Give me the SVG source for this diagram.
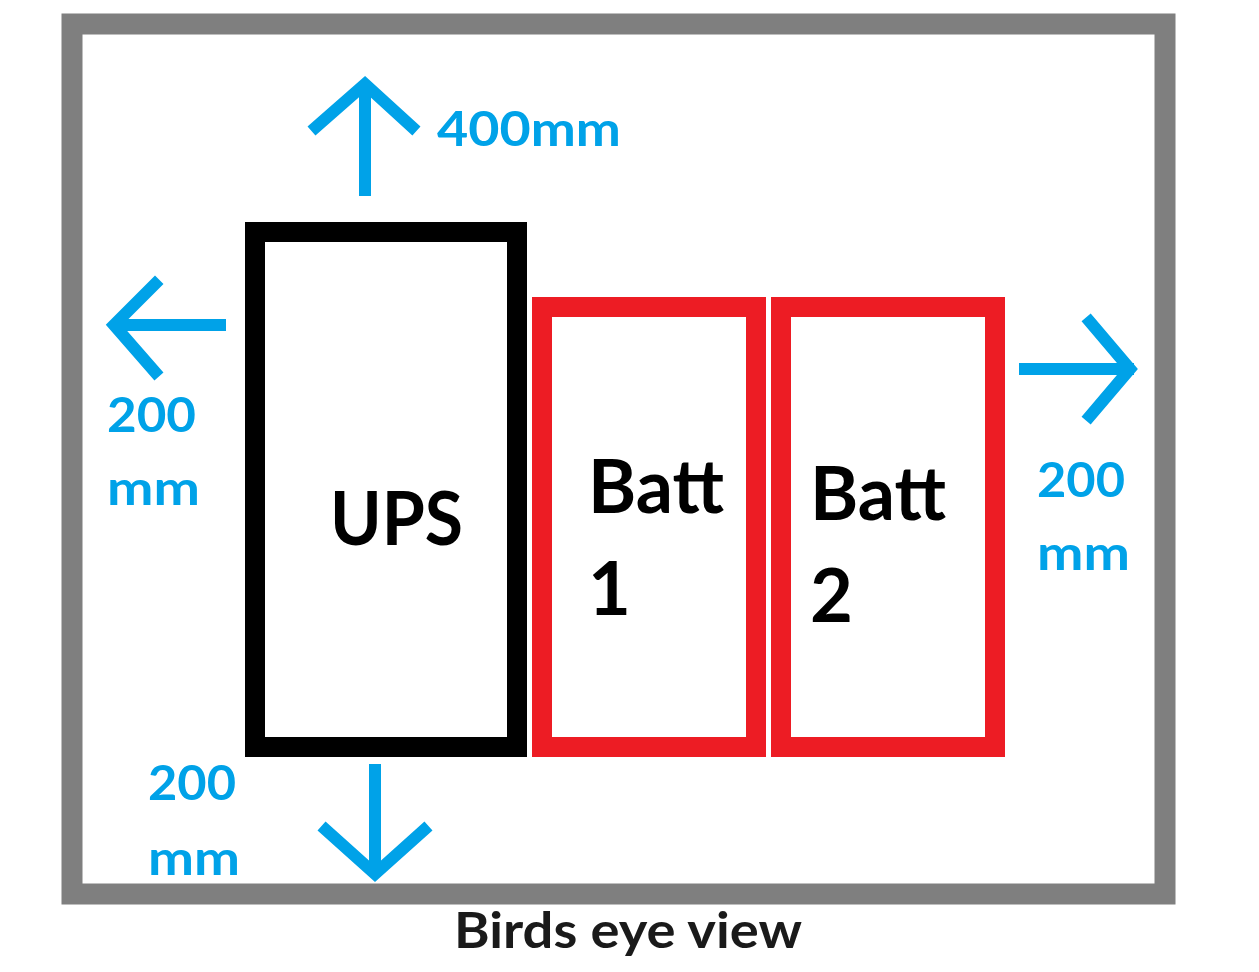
<svg xmlns="http://www.w3.org/2000/svg" width="1259" height="972" viewBox="0 0 1259 972">
<style>
.frame{fill:none;stroke:#7f7f7f;stroke-width:21}
.ups{fill:none;stroke:#000;stroke-width:20}
.batt{fill:none;stroke:#ed1c24;stroke-width:20}
.arr{fill:none;stroke:#00a2e8;stroke-width:12;stroke-linecap:square;stroke-linejoin:miter}
.dim{font-family:Lato,"Open Sans","Liberation Sans",sans-serif;font-weight:bold;font-size:48px;fill:#00a2e8}
.lbl{font-family:Lato,"Open Sans","Liberation Sans",sans-serif;font-weight:bold;font-size:74px;fill:#000}
.cap{font-family:Lato,"Open Sans","Liberation Sans",sans-serif;font-weight:bold;font-size:50px;fill:#1a1a1a}
</style>
<rect width="1259" height="972" fill="#fff"/>
<rect class="frame" x="72" y="24" width="1093" height="870"/>
<g id="ups">
<rect class="ups" x="255" y="232" width="262" height="515"/>
<text class="lbl" x="330" y="545" textLength="133" lengthAdjust="spacingAndGlyphs">UPS</text>
</g>
<g id="batt1">
<rect class="batt" x="542" y="307" width="214" height="440"/>
<text class="lbl" x="588" y="513" textLength="136" lengthAdjust="spacingAndGlyphs">Batt</text>
<text class="lbl" x="588" y="615">1</text>
</g>
<g id="batt2">
<rect class="batt" x="781" y="307" width="214" height="440"/>
<text class="lbl" x="810" y="520" textLength="136" lengthAdjust="spacingAndGlyphs">Batt</text>
<text class="lbl" x="810" y="622">2</text>
</g>
<g id="connectors">
<path class="arr" d="M365 190 V88 M316 127 L365 84 L412 127"/>
<path class="arr" d="M220 325 H118 M155 284 L114 325 L155 372"/>
<path class="arr" d="M1025 369 H1128 M1090 322 L1130 369 L1090 416"/>
<path class="arr" d="M375 770 V870 M326 830 L375 874 L424 830"/>
</g>
<g id="labels">
<text class="dim" x="437" y="146" textLength="184" lengthAdjust="spacingAndGlyphs">400mm</text>
<text class="dim" x="107" y="432" textLength="89" lengthAdjust="spacingAndGlyphs">200</text>
<text class="dim" x="107" y="505" textLength="93" lengthAdjust="spacingAndGlyphs">mm</text>
<text class="dim" x="1037" y="497" textLength="88" lengthAdjust="spacingAndGlyphs">200</text>
<text class="dim" x="1037" y="570" textLength="93" lengthAdjust="spacingAndGlyphs">mm</text>
<text class="dim" x="148" y="800" textLength="88" lengthAdjust="spacingAndGlyphs">200</text>
<text class="dim" x="148" y="875" textLength="92" lengthAdjust="spacingAndGlyphs">mm</text>
<text class="cap" x="454" y="948" textLength="348" lengthAdjust="spacingAndGlyphs">Birds eye view</text>
</g>
</svg>
